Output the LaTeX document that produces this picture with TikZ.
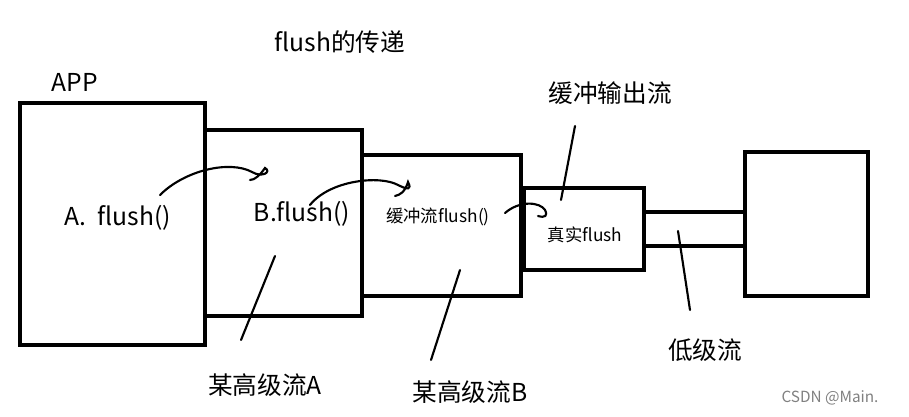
\documentclass[tikz,border=0pt]{standalone}
\usepackage{fontspec}
\setmainfont{Noto Sans CJK SC}
\begin{document}
\begin{tikzpicture}[x=0.75pt,y=-0.75pt,
  box/.style={draw,line width=2.6pt},
  ink/.style={line width=1.6pt,line cap=round},
  lbl/.style={font=\fontsize{18.5}{22}\selectfont,inner sep=0pt},
  sm/.style={font=\fontsize{13}{15}\selectfont,inner sep=0pt}]
\useasboundingbox (0,0) rectangle (909,417);
\draw[box] (20,103) rectangle (205,345);
\draw[box] (205,130) rectangle (362,316);
\draw[box] (362,155) rectangle (521,296);
\draw[box] (524,188) rectangle (644,270);
\draw[box] (644,212) rectangle (745,246);
\draw[box] (745,152) rectangle (868,296);
\node[lbl] (t) at (340,42) {flush的传递};
\node[lbl] (app) at (75,82) {APP};
\node[lbl] (a) at (118,218) {A.\ \ flush()};
\node[lbl] (b) at (302,214) {B.flush()};
\node[sm] (c) at (438,217) {缓冲流flush()};
\node[sm] (r) at (585,235) {真实flush};
\node[lbl] (bo) at (610,93) {缓冲输出流};
\node[lbl] (low) at (705,350) {低级流};
\node[lbl] (ha) at (265,385) {某高级流A};
\node[lbl] (hb) at (470,392) {某高级流B};
\node[font=\fontsize{11.5}{13}\selectfont,text=gray,inner sep=0pt] (cs) at (830,398) {CSDN @Main.};
\draw[ink] (160,195) .. controls (185,170) and (230,160) .. (252,172) .. controls (262,178) and (272,172) .. (265,168) .. controls (260,175) and (255,180) .. (250,180);
\draw[ink] (310,205) .. controls (330,180) and (380,175) .. (398,185) .. controls (408,190) and (412,190) .. (408,182) .. controls (405,192) and (400,195) .. (395,196);
\draw[ink] (505,213) .. controls (520,200) and (540,202) .. (545,210) .. controls (548,216) and (545,218) .. (538,216);
\draw[ink] (275,256) -- (241,340);
\draw[ink] (460,270) -- (431,360);
\draw[ink] (575,126) -- (561,200);
\draw[ink] (678,231) -- (690,310);
\end{tikzpicture}
\end{document}
